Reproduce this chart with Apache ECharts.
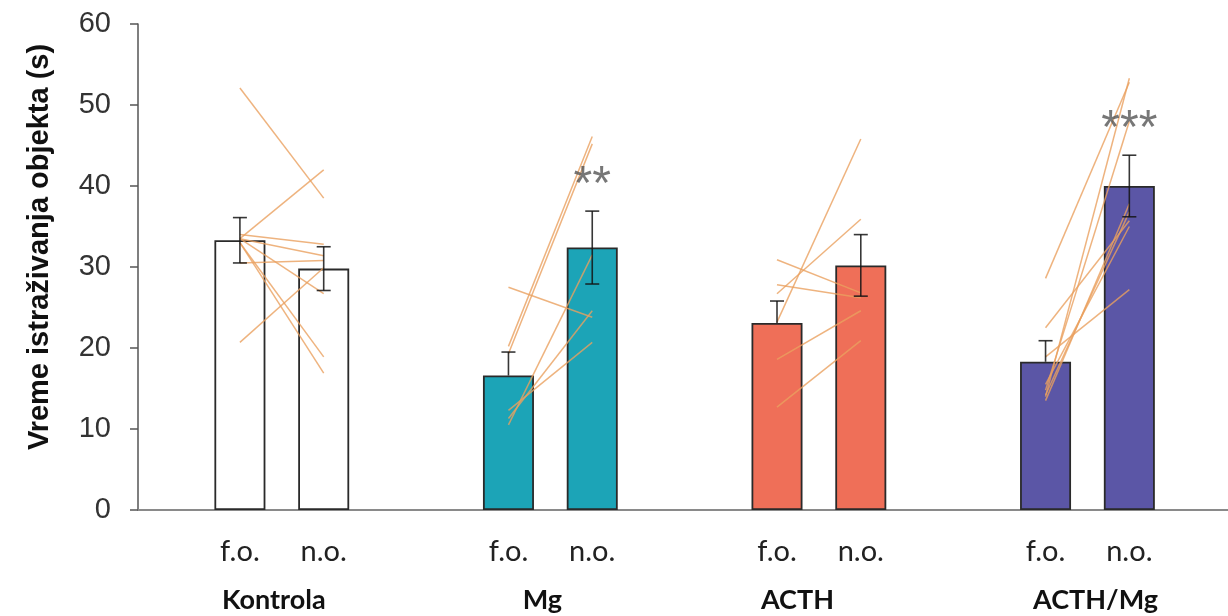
<!DOCTYPE html>
<html>
<head>
<meta charset="utf-8">
<script src="https://cdn.jsdelivr.net/npm/echarts@6/dist/echarts.min.js"></script>
<style>
html,body{margin:0;padding:0;background:#fff;}
#chart{width:1228px;height:616px;}
</style>
</head>
<body>
<div id="chart"></div>
<script>
// ---- data ----
const groups = ['Kontrola', 'Mg', 'ACTH', 'ACTH/Mg'];
const conditions = ['f.o.', 'n.o.'];
const yTicks = [0, 10, 20, 30, 40, 50, 60];
const meanFo = [33.3, 16.6, 23.1, 18.3];
const meanNo = [29.8, 32.4, 30.2, 40.0];
const semFo = [2.8, 2.9, 2.7, 2.6];
const semNo = [2.7, 4.5, 3.8, 3.8];
const significance = ['', '**', '', '***'];
// individual animals (f.o. value -> n.o. value)
const subjFoKontrola = [52.1, 33.5, 34.0, 33.5, 33.5, 33.0, 33.0, 30.5, 20.7];
const subjNoKontrola = [38.5, 42.0, 32.8, 31.4, 26.7, 18.9, 16.9, 30.8, 29.9];
const subjFoMg = [20.2, 19.3, 27.5, 10.5, 11.3, 12.3];
const subjNoMg = [46.1, 45.2, 23.8, 31.5, 24.6, 20.7];
const subjFoACTH = [23.2, 26.7, 30.9, 27.8, 18.6, 12.7];
const subjNoACTH = [45.8, 35.9, 26.8, 26.2, 24.6, 20.9];
const subjFoACTHMg = [28.6, 14.0, 14.8, 22.5, 18.9, 13.5, 14.2, 15.5];
const subjNoACTHMg = [52.8, 53.3, 48.0, 35.7, 27.2, 37.8, 36.8, 35.0];

// ---- layout / style ----
const subjFo = [subjFoKontrola, subjFoMg, subjFoACTH, subjFoACTHMg];
const subjNo = [subjNoKontrola, subjNoMg, subjNoACTH, subjNoACTHMg];
const half = 0.156;                       // offset of f.o./n.o. from group centre
const groupLabelShift = [-0.03, -0.03, -0.08, 0.03];
const fillColors = ['#ffffff', '#1ca4b7', '#ef6f58', '#5b56a6'];
const lowerWhiskerFo = [true, false, false, false];
const xMin = -0.5355, xMax = 3.5234;

const xFo = g => g - half;
const xNo = g => g + half;

const barData = [];
const errData = [];
const starData = [];
groups.forEach((name, g) => {
  const base = {borderColor: '#2a2a2a', borderWidth: 1.8, color: fillColors[g]};
  barData.push({value: [xFo(g), meanFo[g]], itemStyle: base});
  barData.push({value: [xNo(g), meanNo[g]], itemStyle: base});
  errData.push([xFo(g), lowerWhiskerFo[g] ? meanFo[g] - semFo[g] : meanFo[g], meanFo[g] + semFo[g], lowerWhiskerFo[g] ? 1 : 0]);
  errData.push([xNo(g), meanNo[g] - semNo[g], meanNo[g] + semNo[g], 1]);
  if (significance[g]) starData.push({value: [xNo(g), meanNo[g] + semNo[g]], sig: significance[g]});
});

const barXs = [];
groups.forEach((n, g) => { barXs.push(xFo(g)); barXs.push(xNo(g)); });
const groupXs = groups.map((n, g) => g + groupLabelShift[g]);

const subjectSeries = [];
groups.forEach((name, g) => {
  subjFo[g].forEach((v, i) => {
    subjectSeries.push({
      type: 'line', xAxisIndex: 0, yAxisIndex: 0,
      data: [[xFo(g), v], [xNo(g), subjNo[g][i]]],
      symbol: 'none', silent: true, z: 4,
      lineStyle: {color: 'rgba(234,160,95,0.8)', width: 1.5}
    });
  });
});

const chart = echarts.init(document.getElementById('chart'), null, {renderer: 'canvas'});
chart.setOption({
  animation: false,
  backgroundColor: '#ffffff',
  grid: {left: 138, right: 0, top: 24, bottom: 106, containLabel: false},
  xAxis: [{
    type: 'value', min: xMin, max: xMax,
    axisLine: {show: true, onZero: false, lineStyle: {color: '#8a8a8a', width: 2}},
    axisTick: {show: false}, splitLine: {show: false},
    axisLabel: {
      customValues: barXs,
      formatter: v => (Math.round(v) > v ? conditions[0] : conditions[1]),
      fontFamily: 'Lato', fontSize: 29, color: '#222', margin: 27
    }
  }, {
    type: 'value', min: xMin, max: xMax, position: 'bottom',
    axisLine: {show: false}, axisTick: {show: false}, splitLine: {show: false},
    axisLabel: {
      customValues: groupXs,
      formatter: v => groups[Math.round(v)],
      fontFamily: 'Lato', fontWeight: 'bold', fontSize: 27, color: '#111', margin: 77
    }
  }],
  yAxis: {
    type: 'value', min: 0, max: 60, interval: 10,
    name: 'Vreme istraživanja objekta (s)',
    nameLocation: 'middle', nameGap: 84, nameRotate: 90,
    nameTextStyle: {fontFamily: 'Liberation Sans', fontWeight: 'bold', fontSize: 29, color: '#111', padding: [0, 0, 0, 40]},
    axisLine: {show: true, onZero: false, lineStyle: {color: '#555', width: 1.5}},
    axisTick: {show: true, inside: false, length: 8, lineStyle: {color: '#555', width: 1.5}},
    splitLine: {show: false},
    axisLabel: {
      customValues: yTicks,
      fontFamily: 'Liberation Sans', fontSize: 29, color: '#333', margin: 27
    }
  },
  series: [{
    type: 'bar', xAxisIndex: 0, yAxisIndex: 0,
    barWidth: 51, data: barData, z: 2, silent: true
  }].concat(subjectSeries).concat([{
    type: 'custom', xAxisIndex: 0, yAxisIndex: 0, z: 5, silent: true,
    data: errData,
    renderItem: (params, api) => {
      const x = api.value(0);
      const top = api.coord([x, api.value(2)]);
      const bot = api.coord([x, api.value(1)]);
      const cap = 7;
      const st = {stroke: 'rgba(20,20,20,0.85)', lineWidth: 1.6};
      const children = [
        {type: 'line', shape: {x1: top[0], y1: top[1], x2: bot[0], y2: bot[1]}, style: st},
        {type: 'line', shape: {x1: top[0] - cap, y1: top[1], x2: top[0] + cap, y2: top[1]}, style: st}
      ];
      if (api.value(3)) children.push({type: 'line', shape: {x1: bot[0] - cap, y1: bot[1], x2: bot[0] + cap, y2: bot[1]}, style: st});
      return {type: 'group', children: children};
    }
  }, {
    type: 'scatter', xAxisIndex: 0, yAxisIndex: 0, z: 6, silent: true,
    symbolSize: 0, data: starData,
    label: {
      show: true, position: 'inside', offset: [0, -25],
      formatter: p => p.data.sig,
      fontFamily: 'Liberation Sans', fontSize: 48, color: '#555'
    }
  }])
});
</script>
</body>
</html>
